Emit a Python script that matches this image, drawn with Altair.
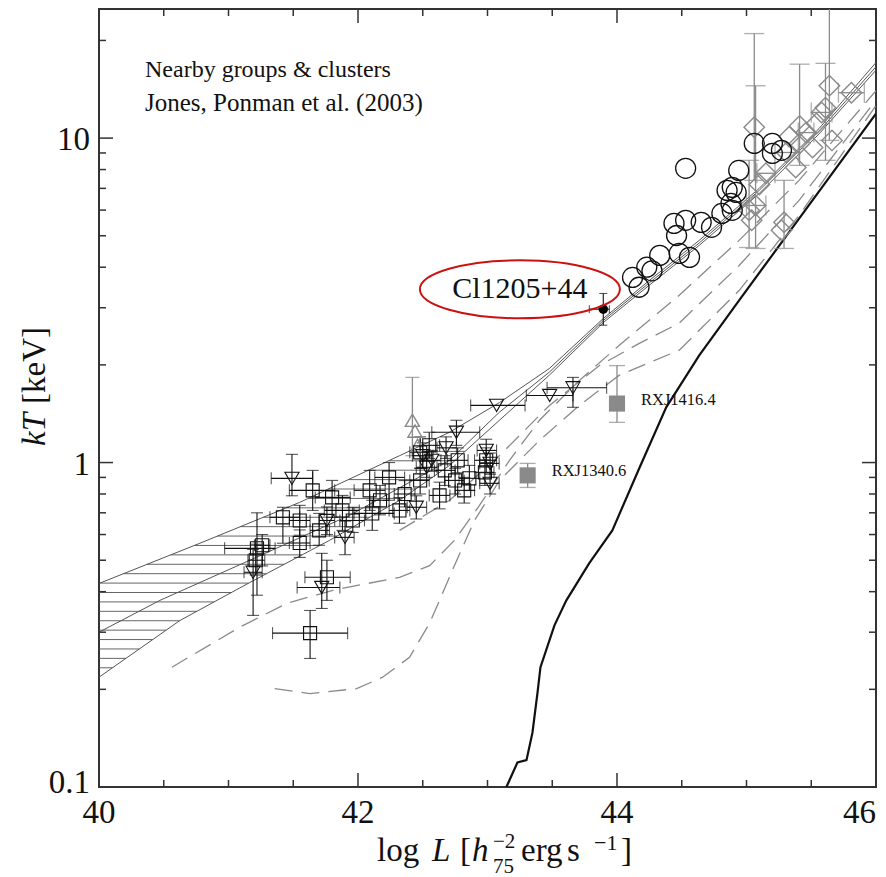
import altair as alt
import numpy as np
import pandas as pd

# ---------------------------------------------------------------- layout
W, H = 777, 778
FONT = "Liberation Serif"
GREY = "#8a8a8a"
DARK = "#333333"

XS = alt.Scale(domain=[40, 46], nice=False, zero=False)
YS = alt.Scale(type="log", domain=[0.1, 25], nice=False)


def X(f):
    return alt.X(f, type="quantitative", scale=XS, axis=None)


def Y(f):
    return alt.Y(f, type="quantitative", scale=YS, axis=None)


# ---------------------------------------------------------------- data
# open circles (clusters, no error bars)
circ_x = [44.53, 45.06, 45.20, 45.27, 45.20, 44.94, 44.89, 44.85, 44.92, 44.88,
          44.89, 44.44, 44.53, 44.65, 44.73, 44.81, 44.46, 44.48, 44.56, 44.33,
          44.23, 44.12, 44.17, 44.27]
circ_y = [8.07, 9.63, 9.63, 9.17, 8.97, 7.95, 7.05, 6.90, 6.80, 6.29,
          5.99, 5.46, 5.58, 5.50, 5.31, 5.86, 5.01, 4.41, 4.29, 4.35,
          4.00, 3.72, 3.47, 3.90]

# open squares (groups)
sq_x = [41.22, 41.42, 41.63, 41.76, 41.65, 41.80, 41.88, 42.09, 42.11, 42.24,
        41.26, 41.55, 41.70, 41.96, 42.48, 42.67, 42.75, 42.86, 42.82, 42.63,
        42.48, 42.17, 42.36, 42.55, 42.99, 42.98, 42.77, 42.32, 41.21, 41.55]
sq_y = [0.544, 0.678, 0.298, 0.443, 0.821, 0.781, 0.712, 0.821, 0.697, 0.900,
        0.556, 0.663, 0.618, 0.663, 1.075, 0.946, 0.881, 0.894, 0.821, 0.792,
        0.881, 0.765, 0.800, 1.130, 1.016, 0.933, 1.016, 0.712, 0.500, 0.565]
sq_xlo = [40.97, 41.32, 41.34, 41.59, 41.47, 41.67, 41.74, 41.97, 41.97, 42.13,
          41.20, 41.47, 41.63, 41.86, 42.40, 42.59, 42.67, 42.78, 42.75, 42.55,
          42.40, 42.09, 42.28, 42.48, 42.90, 42.90, 42.69, 42.24, 41.15, 41.47]
sq_xhi = [41.36, 41.55, 41.92, 41.94, 41.82, 41.94, 42.01, 42.21, 42.28, 42.36,
          41.32, 41.63, 41.78, 42.05, 42.55, 42.75, 42.82, 42.94, 42.90, 42.71,
          42.55, 42.24, 42.44, 42.63, 43.07, 43.05, 42.85, 42.40, 41.28, 41.63]
sq_ylo = [0.390, 0.564, 0.249, 0.376, 0.712, 0.678, 0.618, 0.712, 0.618, 0.765,
          0.480, 0.597, 0.556, 0.609, 0.960, 0.850, 0.800, 0.820, 0.750, 0.720,
          0.800, 0.690, 0.730, 1.030, 0.930, 0.850, 0.930, 0.650, 0.450, 0.510]
sq_yhi = [0.700, 0.728, 0.350, 0.500, 0.946, 0.881, 0.792, 0.946, 0.765, 1.000,
          0.600, 0.738, 0.697, 0.728, 1.200, 1.050, 0.960, 0.980, 0.900, 0.870,
          0.960, 0.850, 0.880, 1.240, 1.110, 1.020, 1.110, 0.780, 0.560, 0.620]

# open inverted triangles (groups)
tri_x = [41.49, 41.19, 41.72, 41.76, 41.90, 42.76, 43.07, 43.48, 43.66, 42.50,
         42.68, 42.99, 43.02, 43.02, 42.53, 42.45, 42.57]
tri_y = [0.894, 0.459, 0.412, 0.663, 0.588, 1.24, 1.50, 1.61, 1.70, 1.05,
         1.11, 1.09, 0.994, 0.863, 0.967, 0.728, 1.016]
tri_xlo = [41.33, 41.12, 41.53, 41.70, 41.82, 42.57, 42.87, 43.30, 43.46, 42.42,
           42.61, 42.92, 42.94, 42.94, 42.45, 42.38, 42.50]
tri_xhi = [41.65, 41.26, 41.86, 41.82, 41.97, 42.94, 43.29, 43.66, 43.92, 42.58,
           42.76, 43.07, 43.09, 43.09, 42.61, 42.53, 42.64]
tri_ylo = [0.79, 0.338, 0.355, 0.60, 0.52, 1.13, 1.50, 1.61, 1.48, 0.96,
           1.03, 1.00, 0.92, 0.80, 0.90, 0.67, 0.94]
tri_yhi = [1.06, 0.54, 0.525, 0.73, 0.66, 1.35, 1.50, 1.61, 1.83, 1.15,
           1.20, 1.18, 1.07, 0.93, 1.04, 0.79, 1.09]

# grey upright triangles
gtri_x = [42.42, 42.44, 42.46]
gtri_y = [1.35, 1.25, 1.13]
gtri_ylo = [1.05, 1.25, 1.13]
gtri_yhi = [1.83, 1.25, 1.13]

# grey diamonds (hot clusters)
dia_x = [45.06, 45.07, 45.64, 45.61, 45.41, 45.81, 45.58, 45.46, 45.66, 45.51,
         45.31, 45.38, 45.15, 45.02, 45.04, 45.29, 45.27, 45.54, 45.41, 45.33, 45.10]
dia_y = [10.8, 6.20, 14.5, 12.4, 10.9, 13.8, 12.0, 10.4, 9.84, 9.36,
         9.03, 8.12, 7.79, 5.99, 5.58, 5.50, 5.20, 11.1, 9.63, 10.1, 7.20]
dia_xlo = [45.06, 45.00, 45.64, 45.61, 45.41, 45.71, 45.50, 45.40, 45.66, 45.51,
           45.22, 45.38, 45.08, 45.02, 45.04, 45.29, 45.27, 45.54, 45.41, 45.33, 45.10]
dia_xhi = [45.06, 45.15, 45.64, 45.61, 45.41, 45.91, 45.66, 45.52, 45.66, 45.51,
           45.40, 45.38, 45.22, 45.02, 45.04, 45.29, 45.27, 45.54, 45.41, 45.33, 45.10]
dia_ylo = [7.41, 4.57, 9.84, 8.54, 8.24, 13.8, 12.0, 10.4, 9.84, 9.36,
           9.03, 8.12, 7.79, 4.60, 5.58, 4.57, 5.20, 11.1, 9.63, 10.1, 7.20]
dia_yhi = [21.0, 14.5, 30.0, 17.0, 16.9, 13.8, 12.0, 10.4, 9.84, 9.36,
           9.03, 8.12, 7.79, 8.54, 5.58, 7.41, 5.20, 11.1, 9.63, 10.1, 7.20]

# named systems
rxj_name = ["RXJ1416.4", "RXJ1340.6"]
rxj_x = [44.00, 43.31]
rxj_y = [1.52, 0.913]
rxj_ylo = [1.33, 0.838]
rxj_yhi = [1.99, 0.994]

cl_name = "Cl1205+44"
cl_x, cl_y = 43.894, 2.97
cl_xlo, cl_xhi = 43.786, 43.941
cl_ylo, cl_yhi = 2.65, 3.32

# model curves: hatched band (top / middle / bottom edges)
band_top_x = [40.0, 40.779, 41.550, 42.321, 42.707, 43.092, 43.478, 43.894, 44.249, 44.635, 45.098, 45.560, 46.0]
band_top_y = [0.424, 0.564, 0.754, 1.05, 1.24, 1.53, 1.95, 2.78, 3.64, 4.84, 7.0, 10.7, 17.1]
band_mid_x = [40.0, 40.470, 41.165, 41.936, 42.707, 43.092, 43.478, 43.894, 44.249, 44.635, 45.098, 45.560, 46.0]
band_mid_y = [0.300, 0.376, 0.500, 0.688, 1.016, 1.43, 1.90, 2.74, 3.58, 4.75, 6.9, 10.5, 16.6]
band_bot_x = [40.0, 40.625, 41.165, 41.781, 42.321, 42.707, 43.092, 43.478, 43.894, 44.249, 44.635, 45.098, 45.560, 46.0]
band_bot_y = [0.218, 0.326, 0.427, 0.576, 0.765, 0.98, 1.35, 1.86, 2.70, 3.52, 4.67, 6.75, 10.3, 16.2]

# dashed model curves
d1_x = [40.563, 41.087, 41.450, 41.805, 42.321, 42.553, 42.745, 42.938, 43.170, 43.401, 43.709, 44.018, 44.481, 44.943, 45.406, 46.0]
d1_y = [0.234, 0.311, 0.368, 0.404, 0.443, 0.481, 0.576, 0.738, 1.016, 1.35, 1.79, 2.30, 3.28, 4.84, 7.41, 14.0]
d2_x = [41.357, 41.627, 41.990, 42.190, 42.398, 42.553, 42.630, 42.745, 42.900, 43.092, 43.401, 43.709, 44.018, 44.481, 44.943, 45.406, 46.0]
d2_y = [0.201, 0.194, 0.201, 0.218, 0.251, 0.320, 0.376, 0.482, 0.663, 0.88, 1.17, 1.50, 1.86, 2.22, 3.39, 5.78, 12.6]
d3_x = [42.321, 42.707, 43.092, 43.478, 43.864, 44.172, 44.481, 44.943, 45.406, 46.0]
d3_y = [0.618, 0.765, 1.05, 1.50, 1.99, 2.33, 2.69, 4.05, 6.43, 13.1]

# self-similar curve (solid black)
ss_x = [43.146, 43.231, 43.301, 43.347, 43.386, 43.409, 43.517, 43.609, 43.786, 43.964, 44.172, 44.380, 44.635, 44.943, 45.406, 46.0]
ss_y = [0.100, 0.119, 0.121, 0.147, 0.195, 0.234, 0.315, 0.376, 0.490, 0.618, 0.96, 1.48, 2.14, 3.16, 5.65, 11.9]

# axis ticks
x_major = [42, 44]
x_minor = [40.5, 41, 41.5, 42.5, 43, 43.5, 44.5, 45, 45.5]
y_major = [1, 10]
y_minor = [0.2, 0.3, 0.4, 0.5, 0.6, 0.7, 0.8, 0.9, 2, 3, 4, 5, 6, 7, 8, 9, 20]
x_labels = [40, 42, 44, 46]
y_labels = [10, 1, 0.1]


# ---------------------------------------------------------------- frames
def curve_df(xs, ys):
    return pd.DataFrame({"x": xs, "y": ys, "i": range(len(xs))})


def err_df(x, y, xlo, xhi, ylo, yhi):
    return pd.DataFrame({"x": x, "y": y, "xlo": xlo, "xhi": xhi, "ylo": ylo, "yhi": yhi})


sq = err_df(sq_x, sq_y, sq_xlo, sq_xhi, sq_ylo, sq_yhi)
tri = err_df(tri_x, tri_y, tri_xlo, tri_xhi, tri_ylo, tri_yhi)
gtri = err_df(gtri_x, gtri_y, gtri_x, gtri_x, gtri_ylo, gtri_yhi)
dia = err_df(dia_x, dia_y, dia_xlo, dia_xhi, dia_ylo, dia_yhi)
rxj = err_df(rxj_x, rxj_y, rxj_x, rxj_x, rxj_ylo, rxj_yhi).assign(name=rxj_name)
cl = err_df([cl_x], [cl_y], [cl_xlo], [cl_xhi], [cl_ylo], [cl_yhi]).assign(name=[cl_name])

# horizontal hatching between the top and bottom edges of the band
HATCH_STEP_DEX = 0.029
HATCH_TOP = 1.12
levels = 10 ** np.arange(np.log10(band_bot_y[0]), np.log10(HATCH_TOP), HATCH_STEP_DEX)
hatch_rows = []
for h in levels:
    xl = float(np.interp(np.log10(h), np.log10(band_top_y), band_top_x))
    xr = float(np.interp(np.log10(h), np.log10(band_bot_y), band_bot_x))
    if xr > xl:
        hatch_rows.append({"y": h, "xl": xl, "xr": xr})
hatch = pd.DataFrame(hatch_rows)


# ---------------------------------------------------------------- layers
def errorbars(df, color, cap, width=1.0):
    base = alt.Chart(df)
    yv = base.transform_filter("datum.ylo < datum.yhi")
    xv = base.transform_filter("datum.xlo < datum.xhi")
    return [
        yv.mark_rule(color=color, strokeWidth=width, clip=True).encode(
            x=X("x"), y=Y("ylo"), y2=alt.Y2("yhi")),
        xv.mark_rule(color=color, strokeWidth=width, clip=True).encode(
            x=X("xlo"), x2=alt.X2("xhi"), y=Y("y")),
        yv.mark_tick(orient="horizontal", size=cap, thickness=width, color=color, clip=True).encode(
            x=X("x"), y=Y("ylo")),
        yv.mark_tick(orient="horizontal", size=cap, thickness=width, color=color, clip=True).encode(
            x=X("x"), y=Y("yhi")),
        xv.mark_tick(orient="vertical", size=cap, thickness=width, color=color, clip=True).encode(
            x=X("xlo"), y=Y("y")),
        xv.mark_tick(orient="vertical", size=cap, thickness=width, color=color, clip=True).encode(
            x=X("xhi"), y=Y("y")),
    ]


def line(xs, ys, color, width, dash=None):
    kw = dict(color=color, strokeWidth=width, clip=True)
    if dash:
        kw["strokeDash"] = dash
    return alt.Chart(curve_df(xs, ys)).mark_line(**kw).encode(
        x=X("x"), y=Y("y"), order="i:Q")


layers = []

# hatched band
layers.append(alt.Chart(hatch).mark_rule(color="#555555", strokeWidth=0.9, clip=True).encode(
    x=X("xl"), x2=alt.X2("xr"), y=Y("y")))
layers.append(line(band_top_x, band_top_y, "#555555", 1.0))
layers.append(line(band_mid_x, band_mid_y, "#555555", 1.0))
layers.append(line(band_bot_x, band_bot_y, "#555555", 1.0))

# dashed models
for dx_, dy_ in [(d1_x, d1_y), (d2_x, d2_y), (d3_x, d3_y)]:
    layers.append(line(dx_, dy_, GREY, 1.3, dash=[18, 9]))

# self-similar relation
layers.append(line(ss_x, ss_y, "#111111", 2.2))

# error bars
layers += errorbars(dia, GREY, 20, 1.3)
layers += errorbars(gtri, GREY, 14, 1.3)
layers += errorbars(sq, "#111111", 12, 1.1)
layers += errorbars(tri, "#111111", 12, 1.1)
layers += errorbars(rxj, GREY, 16, 1.3)
layers += errorbars(cl, "#111111", 8, 1.1)

# symbols
layers.append(alt.Chart(dia).mark_point(shape="diamond", filled=False, color=GREY,
                                        strokeWidth=1.4, size=420, opacity=1).encode(x=X("x"), y=Y("y")))
layers.append(alt.Chart(gtri).mark_point(shape="triangle-up", filled=False, color=GREY,
                                         strokeWidth=1.4, size=200, opacity=1).encode(x=X("x"), y=Y("y")))
layers.append(alt.Chart(sq).mark_point(shape="square", filled=False, color="#111111",
                                       strokeWidth=1.1, size=170, opacity=1).encode(x=X("x"), y=Y("y")))
layers.append(alt.Chart(tri).mark_point(shape="triangle-down", filled=False, color="#111111",
                                        strokeWidth=1.1, size=200, opacity=1).encode(x=X("x"), y=Y("y")))
layers.append(alt.Chart(pd.DataFrame({"x": circ_x, "y": circ_y})).mark_point(
    shape="circle", filled=False, color="#111111", strokeWidth=1.3, size=400, opacity=1).encode(
    x=X("x"), y=Y("y")))
layers.append(alt.Chart(rxj).mark_point(shape="square", filled=True, color=GREY,
                                        size=260, opacity=1).encode(x=X("x"), y=Y("y")))
layers.append(alt.Chart(cl).mark_point(shape="circle", filled=True, color="#000000",
                                       size=90, opacity=1).encode(x=X("x"), y=Y("y")))

# labels of named systems
layers.append(alt.Chart(rxj).mark_text(font=FONT, fontSize=16.5, align="left", baseline="middle",
                                       dx=24, dy=-4, color="#111111").encode(
    x=X("x"), y=Y("y"), text="name:N"))

# Cl1205+44 label and its red ring
cl_lab = pd.DataFrame({"x": [43.25], "y": [3.42], "t": [cl_name]})
layers.append(alt.Chart(cl_lab).mark_text(font=FONT, fontSize=30, align="center",
                                          baseline="middle", color="#111111").encode(
    x=X("x"), y=Y("y"), text="t:N"))
ELLIPSE = "M -1 0 A 1 0.29 0 1 1 1 0 A 1 0.29 0 1 1 -1 0 Z"
layers.append(alt.Chart(cl_lab).mark_point(shape=ELLIPSE, filled=False, color="#cc1111",
                                           strokeWidth=2, size=40000, opacity=1).encode(
    x=X("x"), y=Y("y")))

# caption in the upper left
one = pd.DataFrame({"a": [0]})
layers.append(alt.Chart(one).mark_text(text="Nearby groups & clusters", font=FONT, fontSize=24,
                                       align="left", baseline="middle", color="#111111").encode(
    x=alt.value(46), y=alt.value(61)))
layers.append(alt.Chart(one).mark_text(text="Jones, Ponman et al. (2003)", font=FONT, fontSize=25,
                                       align="left", baseline="middle", color="#111111").encode(
    x=alt.value(46), y=alt.value(94)))

# inward ticks on all four sides
def xticks(vals, length):
    d = alt.Chart(pd.DataFrame({"v": vals}))
    return [
        d.mark_rule(color=DARK, strokeWidth=1.5).encode(x=X("v"), y=alt.value(H), y2=alt.value(H - length)),
        d.mark_rule(color=DARK, strokeWidth=1.5).encode(x=X("v"), y=alt.value(0), y2=alt.value(length)),
    ]


def yticks(vals, length):
    d = alt.Chart(pd.DataFrame({"v": vals}))
    return [
        d.mark_rule(color=DARK, strokeWidth=1.5).encode(y=Y("v"), x=alt.value(0), x2=alt.value(length)),
        d.mark_rule(color=DARK, strokeWidth=1.5).encode(y=Y("v"), x=alt.value(W), x2=alt.value(W - length)),
    ]


layers += xticks(x_major, 14) + xticks(x_minor, 7)
layers += yticks(y_major, 14) + yticks(y_minor, 7)

# tick labels
xl_df = pd.DataFrame({"v": x_labels, "t": [str(v) for v in x_labels]})
layers.append(alt.Chart(xl_df).transform_filter("datum.v < 46").mark_text(
    font=FONT, fontSize=33, align="center", baseline="alphabetic", color="#111111").encode(
    x=X("v"), y=alt.value(H + 36), text="t:N"))
layers.append(alt.Chart(xl_df).transform_filter("datum.v == 46").mark_text(
    font=FONT, fontSize=33, align="right", baseline="alphabetic", color="#111111").encode(
    x=X("v"), y=alt.value(H + 36), text="t:N"))
yl_df = pd.DataFrame({"v": y_labels, "t": ["10", "1", "0.1"]})
layers.append(alt.Chart(yl_df).transform_filter("datum.v >= 1").mark_text(
    font=FONT, fontSize=33, align="right", baseline="middle", dy=2, color="#111111").encode(
    x=alt.value(-9), y=Y("v"), text="t:N"))
layers.append(alt.Chart(yl_df).transform_filter("datum.v < 1").mark_text(
    font=FONT, fontSize=33, align="right", baseline="alphabetic", dy=6, color="#111111").encode(
    x=alt.value(-9), y=Y("v"), text="t:N"))


# axis titles built from pieces (italics, sub- and superscripts)
def piece(text, x, y, size=32, italic=False, angle=0):
    kw = dict(text=text, font=FONT, fontSize=size, align="left",
              baseline="alphabetic" if angle == 0 else "middle", color="#111111")
    if italic:
        kw["fontStyle"] = "italic"
    if angle:
        kw["angle"] = angle
    return alt.Chart(one).mark_text(**kw).encode(x=alt.value(x), y=alt.value(y))


OX, OY = 99, 9  # page position of the plot origin
title_pieces = [
    ("log", 377, 861, 33, False),
    ("L", 432, 861, 33, True),
    ("[", 460, 861, 33, False),
    ("h", 472, 861, 33, True),
    ("75", 493, 873, 21, False),
    ("\u22122", 493, 848, 21, False),
    ("erg", 521, 861, 33, False),
    ("s", 567, 861, 33, False),
    ("\u22121", 594, 850, 22, False),
    ("]", 621, 861, 33, False),
]
for t, px, py, s, it in title_pieces:
    layers.append(piece(t, px - OX, py - OY, s, it))

layers.append(piece("kT", 35 - OX, 446 - OY, 33, True, angle=270))
layers.append(piece("[keV]", 35 - OX, 404 - OY, 33, False, angle=270))

chart = alt.layer(*layers).properties(
    width=W, height=H,
    padding={"left": OX, "top": OY, "right": 886 - OX - W, "bottom": 877 - OY - H},
    autosize=alt.AutoSizeParams(type="none"),
    background="white",
).configure_view(stroke=DARK, strokeWidth=2)

chart.save("out.html", embed_options={"renderer": "svg", "actions": False})
